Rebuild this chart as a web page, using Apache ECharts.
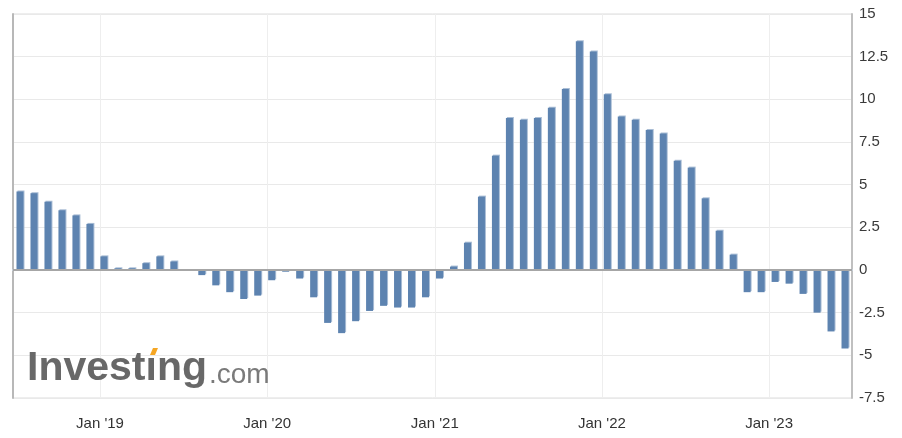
<!DOCTYPE html>
<html>
<head>
<meta charset="utf-8">
<script src="https://cdn.jsdelivr.net/npm/echarts@6/dist/echarts.min.js"></script>
<style>
html,body{margin:0;padding:0;background:#fff;}
#chart{width:902px;height:438px;}
</style>
</head>
<body>
<div id="chart"></div>
<script>
// Monthly periods (one bar per month)
var months = [
  '2018-07','2018-08','2018-09','2018-10','2018-11','2018-12',
  '2019-01','2019-02','2019-03','2019-04','2019-05','2019-06',
  '2019-07','2019-08','2019-09','2019-10','2019-11','2019-12',
  '2020-01','2020-02','2020-03','2020-04','2020-05','2020-06',
  '2020-07','2020-08','2020-09','2020-10','2020-11','2020-12',
  '2021-01','2021-02','2021-03','2021-04','2021-05','2021-06',
  '2021-07','2021-08','2021-09','2021-10','2021-11','2021-12',
  '2022-01','2022-02','2022-03','2022-04','2022-05','2022-06',
  '2022-07','2022-08','2022-09','2022-10','2022-11','2022-12',
  '2023-01','2023-02','2023-03','2023-04','2023-05','2023-06'
];
// Values (%)
var values = [
  4.6, 4.5, 4.0, 3.5, 3.2, 2.7,
  0.8, 0.1, 0.1, 0.4, 0.8, 0.5,
  0.0, -0.3, -0.9, -1.3, -1.7, -1.5,
  -0.6, -0.1, -0.5, -1.6, -3.1, -3.7,
  -3.0, -2.4, -2.1, -2.2, -2.2, -1.6,
  -0.5, 0.2, 1.6, 4.3, 6.7, 8.9,
  8.8, 8.9, 9.5, 10.6, 13.4, 12.8,
  10.3, 9.0, 8.8, 8.2, 8.0, 6.4,
  6.0, 4.2, 2.3, 0.9, -1.3, -1.3,
  -0.7, -0.8, -1.4, -2.5, -3.6, -4.6
];
// Date range covered by the time scale used for gridlines / labels
var xStart = '2018-06-25';
var xEnd = '2023-07-01';
var yMin = -7.5, yMax = 15, yStep = 2.5;
var monthNames = ['Jan','Feb','Mar','Apr','May','Jun','Jul','Aug','Sep','Oct','Nov','Dec'];

var FONT = 'Arial, "Liberation Sans", sans-serif';
var chart = echarts.init(document.getElementById('chart'), null, {renderer: 'canvas'});
chart.setOption({
  animation: false,
  backgroundColor: '#ffffff',
  grid: {left: 13, right: 50, top: 14, bottom: 40, show: true, borderColor: '#dcdcdc', borderWidth: 1, backgroundColor: 'transparent'},
  xAxis: [{
    type: 'category',
    data: months,
    boundaryGap: true,
    show: false
  }, {
    type: 'time',
    min: xStart,
    max: xEnd,
    splitNumber: 5,
    position: 'bottom',
    axisLine: {show: true, lineStyle: {color: '#c8d5e2', width: 2}},
    axisTick: {show: false},
    splitLine: {show: true, lineStyle: {color: '#eeeeee', width: 1}},
    axisLabel: {
      show: true,
      showMinLabel: false,
      showMaxLabel: false,
      margin: 18,
      color: '#333333',
      fontFamily: FONT,
      fontSize: 15,
      formatter: function (v) {
        var d = new Date(v);
        return monthNames[d.getMonth()] + " '" + String(d.getFullYear()).slice(2);
      }
    }
  }],
  yAxis: [{
    type: 'value',
    position: 'right',
    min: yMin, max: yMax, interval: yStep,
    axisLine: {show: true, lineStyle: {color: '#c0c0c0', width: 2}},
    axisTick: {show: false},
    splitLine: {show: true, lineStyle: {color: '#e9e9e9', width: 1}},
    axisLabel: {margin: 7, color: '#3a3a3a', fontFamily: FONT, fontSize: 15, align: 'left'}
  }, {
    type: 'value',
    position: 'left',
    min: yMin, max: yMax, interval: yStep,
    axisLine: {show: true, lineStyle: {color: '#b8b8b8', width: 2}},
    axisTick: {show: false},
    splitLine: {show: false},
    axisLabel: {show: false}
  }],
  series: [{
    type: 'bar',
    xAxisIndex: 0,
    yAxisIndex: 0,
    data: values,
    barWidth: 7,
    itemStyle: {
      color: '#5d83b0',
      shadowColor: '#a9bdd5',
      shadowOffsetX: 1,
      shadowOffsetY: -1,
      shadowBlur: 0
    },
    markLine: {
      silent: true,
      symbol: 'none',
      label: {show: false},
      lineStyle: {color: '#a6a6a6', width: 2, type: 'solid'},
      data: [{yAxis: 0}]
    }
  }],
  graphic: [
    {type: 'text', left: 27, top: 348, z: 10, silent: true,
     style: {text: 'Invest\u0131ng', font: 'bold 41px ' + FONT, fill: '#686868'}},
    {type: 'polygon', z: 11, silent: true,
     shape: {points: [[150, 355], [155, 355], [158, 348], [153, 348]]},
     style: {fill: '#f5a623'}},
    {type: 'text', left: 209, top: 361, z: 10, silent: true,
     style: {text: '.com', font: '28px ' + FONT, fill: '#7a7a7a'}}
  ]
});
</script>
</body>
</html>
